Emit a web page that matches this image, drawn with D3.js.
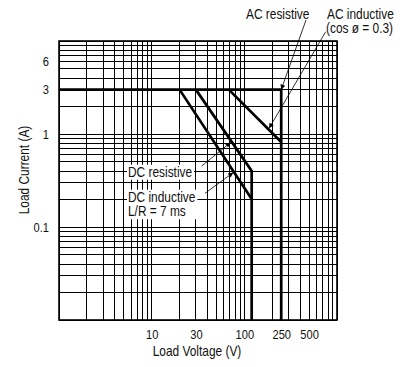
<!DOCTYPE html>
<html>
<head>
<meta charset="utf-8">
<script src="https://cdn.jsdelivr.net/npm/d3@7"></script>
<style>
  body { margin: 0; background: #fff; }
  text { font-family: "Liberation Sans", Arial, sans-serif; fill: #111; }
</style>
</head>
<body>
<div id="chart"></div>
<script>
// limit curves, [voltage, current]
var acResistive = [[1, 3], [250, 3], [250, 0.01]];
var acInductive = [[68, 3], [250, 0.82]];
var dcResistive = [[30, 3], [120, 0.4], [120, 0.01]];
var dcInductive = [[20, 3], [120, 0.2]];

var xTickValues = [10, 30, 100, 250, 500];
var yTickValues = [0.1, 1, 3, 6];

// the reference uses a condensed face, squeeze the regular one
var condense = 0.82;

// set the dimensions and margins of the graph
var margin = {top: 41, right: 72, bottom: 47, left: 59},
    width = 409 - margin.left - margin.right,
    height = 367 - margin.top - margin.bottom;

var svgRoot = d3.select("#chart")
  .append("svg")
    .attr("width", 409)
    .attr("height", 367);

var svg = svgRoot.append("g")
    .attr("transform", "translate(" + margin.left + "," + margin.top + ")");

var x = d3.scaleLog().domain([1, 1000]).range([0, width]);
var y = d3.scaleLog().domain([0.01, 10]).range([height, 0]);

// grid
svg.append("g").selectAll("line")
  .data(x.ticks())
  .enter().append("line")
    .attr("x1", function(d) { return x(d); })
    .attr("x2", function(d) { return x(d); })
    .attr("y1", 0).attr("y2", height)
    .attr("stroke", "#000")
    .attr("stroke-width", 1)
    .attr("shape-rendering", "crispEdges");

svg.append("g").selectAll("line")
  .data(y.ticks())
  .enter().append("line")
    .attr("y1", function(d) { return y(d); })
    .attr("y2", function(d) { return y(d); })
    .attr("x1", 0).attr("x2", width)
    .attr("stroke", "#000")
    .attr("stroke-width", 1)
    .attr("shape-rendering", "crispEdges");

svg.append("rect")
  .attr("width", width).attr("height", height)
  .attr("fill", "none").attr("stroke", "#000").attr("stroke-width", 1.6);

// axes (labels only)
var xAxis = svg.append("g")
  .attr("transform", "translate(0," + height + ")")
  .call(d3.axisBottom(x).tickValues(xTickValues).tickFormat(d3.format("d")).tickSize(0).tickPadding(9));
var yAxis = svg.append("g")
  .call(d3.axisLeft(y).tickValues(yTickValues).tickFormat(function(d) { return d < 1 ? "0.1" : d; }).tickSize(0).tickPadding(10));

[xAxis, yAxis].forEach(function(a) {
  a.select(".domain").remove();
  a.selectAll("text")
    .style("font-family", "'Liberation Sans', Arial, sans-serif")
    .style("font-size", "13.5px")
    .attr("fill", "#111");
});

svgRoot.append("text")
  .attr("x", margin.left + width / 2 - 1)
  .attr("y", 356)
  .attr("text-anchor", "middle")
  .style("font-size", "14.5px")
  .text("Load Voltage (V)");

svgRoot.append("text")
  .attr("transform", "translate(28.5," + 170 + ")rotate(-90)")
  .attr("text-anchor", "middle")
  .style("font-size", "14.5px")
  .text("Load Current (A)");

svgRoot.append("text").attr("x", 246).attr("y", 19).style("font-size", "14.5px").text("AC resistive");
svgRoot.append("text").attr("x", 327).attr("y", 19).style("font-size", "14.5px").text("AC inductive");
svgRoot.append("text").attr("x", 326).attr("y", 33).style("font-size", "14.5px").text("(cos ø = 0.3)");

// squeeze every plain text (tspans handled in boxedLabel)
svgRoot.selectAll("text").each(function() {
  var len = this.getComputedTextLength();
  d3.select(this)
    .attr("textLength", len * condense)
    .attr("lengthAdjust", "spacingAndGlyphs");
});

// labels with white boxes
function boxedLabel(lines, px, py, lh) {
  var g = svgRoot.append("g");
  var r = g.append("rect").attr("fill", "#fff");
  var t = g.append("text").style("font-size", "14.5px");
  lines.forEach(function(s, i) {
    var ts = t.append("tspan").attr("x", px).attr("y", py + i * lh).text(s);
    var len = ts.node().getComputedTextLength();
    ts.attr("textLength", len * condense).attr("lengthAdjust", "spacingAndGlyphs");
  });
  var b = t.node().getBBox();
  r.attr("x", b.x - 1).attr("y", b.y + 1).attr("width", b.width + 3).attr("height", b.height - 1);
}
boxedLabel(["DC resistive"], 128, 176.7, 15);
boxedLabel(["DC inductive", "L/R = 7 ms"], 128, 201.7, 14.5);

// curves
var line = d3.line()
  .x(function(d) { return x(d[0]); })
  .y(function(d) { return y(d[1]); });

[acResistive, acInductive, dcResistive, dcInductive].forEach(function(s) {
  svg.append("path")
    .datum(s)
    .attr("d", line)
    .attr("fill", "none")
    .attr("stroke", "#000")
    .attr("stroke-width", 2.7)
    .attr("stroke-linejoin", "miter");
});

// arrows: start in page pixels near label, tip at a data point
svgRoot.append("defs").append("marker")
  .attr("id", "arr")
  .attr("viewBox", "0 0 10 10")
  .attr("refX", 10).attr("refY", 5)
  .attr("markerWidth", 7).attr("markerHeight", 5)
  .attr("markerUnits", "userSpaceOnUse")
  .attr("orient", "auto")
  .append("path").attr("d", "M0,0L10,5L0,10z").attr("fill", "#000");

var arrows = [
  {from: [306, 20], to: [250, 3]},
  {from: [325.7, 31.7], to: [185, 1.15]},
  {from: [201.7, 166], to: [71, 0.81]},
  {from: [205, 193.3], to: [76, 0.385]}
];
arrows.forEach(function(a) {
  svgRoot.append("line")
    .attr("x1", a.from[0]).attr("y1", a.from[1])
    .attr("x2", margin.left + x(a.to[0])).attr("y2", margin.top + y(a.to[1]))
    .attr("stroke", "#000").attr("stroke-width", 0.8)
    .attr("marker-end", "url(#arr)");
});
</script>
</body>
</html>
